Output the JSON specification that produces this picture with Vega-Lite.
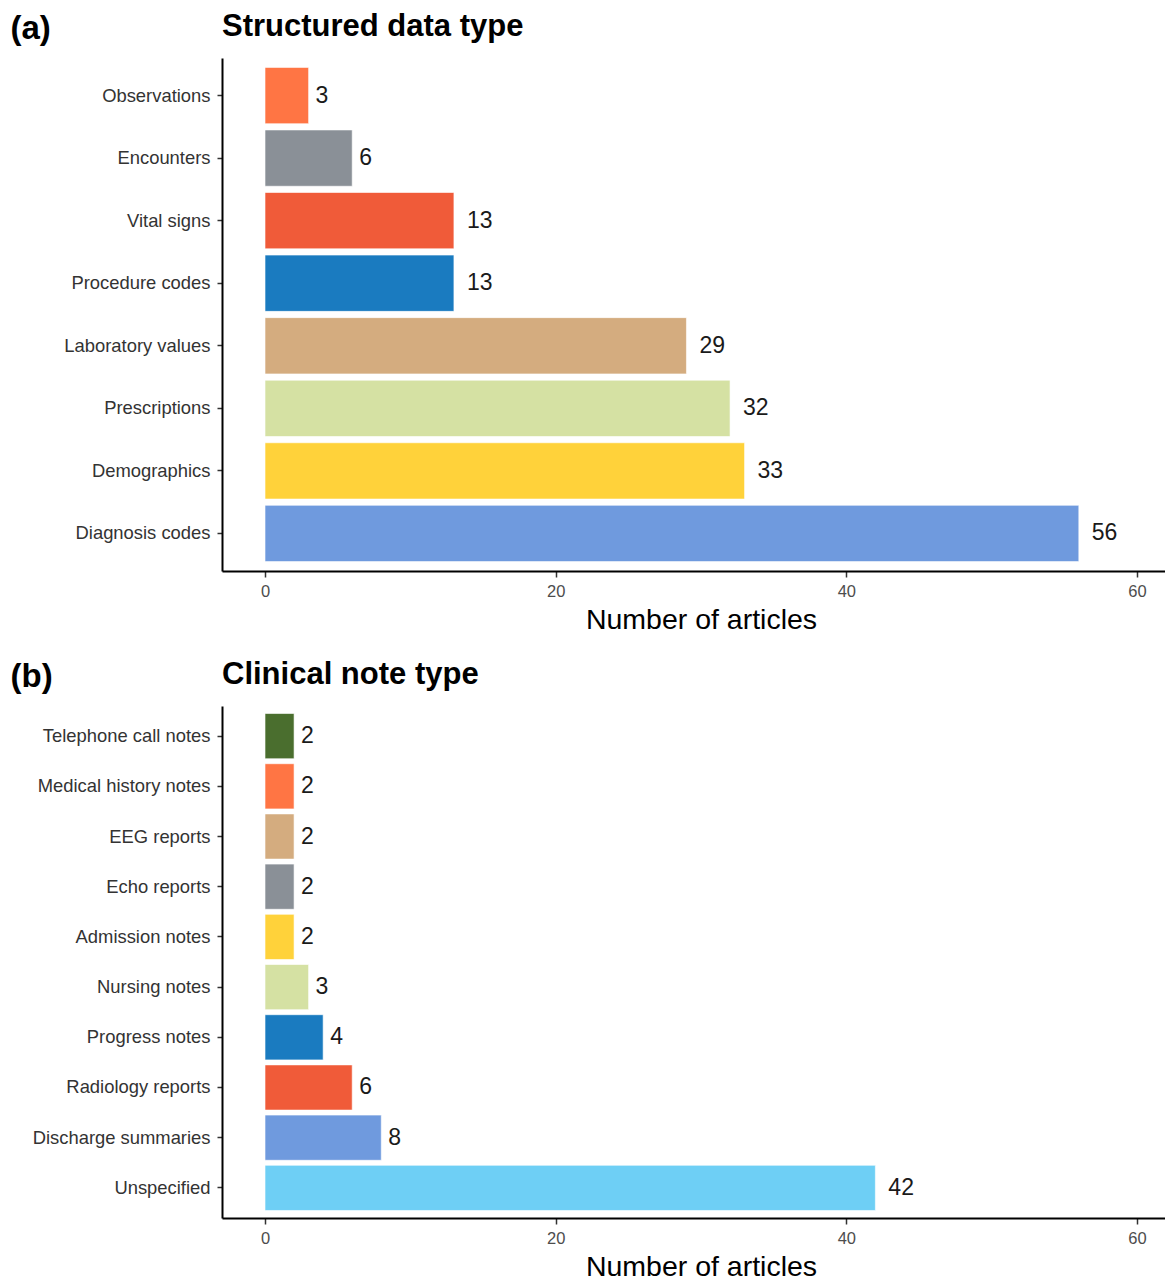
{
  "$schema": "https://vega.github.io/schema/vega-lite/v6.json",
  "padding": {"left": 10, "top": 11, "right": 0, "bottom": 0},
  "background": "white",
  "spacing": 25,
  "resolve": {"scale": {"color": "independent"}},
  "config": {
    "view": {"stroke": null},
    "font": "Liberation Sans",
    "axis": {"grid": false, "domainColor": "black", "domainWidth": 2, "tickColor": "#333333", "tickWidth": 1.5, "labelColor": "#4D4D4D", "labelFont": "Liberation Sans", "titleFont": "Liberation Sans"}
  },
  "vconcat": [
    {
      "width": 943,
      "height": 513,
      "title": {"text": "Structured data type", "anchor": "start", "frame": "group", "fontSize": 31, "fontWeight": "bold", "color": "black", "offset": 0, "dy": 31},
      "data": {"values": [
        {"type": "Observations", "n": 3},
        {"type": "Encounters", "n": 6},
        {"type": "Vital signs", "n": 13},
        {"type": "Procedure codes", "n": 13},
        {"type": "Laboratory values", "n": 29},
        {"type": "Prescriptions", "n": 32},
        {"type": "Demographics", "n": 33},
        {"type": "Diagnosis codes", "n": 56}
      ]},
      "encoding": {
        "y": {"field": "type", "type": "nominal",
          "sort": ["Observations", "Encounters", "Vital signs", "Procedure codes", "Laboratory values", "Prescriptions", "Demographics", "Diagnosis codes"],
          "scale": {"paddingInner": 0.1, "paddingOuter": 0.15},
          "axis": {"title": "(a)", "titleAngle": 0, "titleAlign": "left", "titleBaseline": "alphabetic", "titleX": -212, "titleY": -20, "titleFontSize": 33, "titleFontWeight": "bold", "titleColor": "black", "labelFontSize": 18.4, "labelColor": "#333333", "tickSize": 5, "labelPadding": 7, "labelLimit": 300}
        },
        "x": {"field": "n", "type": "quantitative",
          "scale": {"domain": [-2.96, 61.93], "nice": false, "zero": false},
          "axis": {"values": [0, 20, 40, 60], "title": "Number of articles", "titleFontSize": 28.5, "titleFontWeight": "normal", "titleColor": "black", "titleX": 479, "titlePadding": 6, "labelFontSize": 16.5, "tickSize": 6, "labelPadding": 6}
        }
      },
      "layer": [
        {"mark": {"type": "bar", "stroke": "white", "strokeWidth": 0.6},
         "encoding": {"x2": {"datum": 0},
           "color": {"field": "type", "type": "nominal", "legend": null,
             "scale": {"domain": ["Observations", "Encounters", "Vital signs", "Procedure codes", "Laboratory values", "Prescriptions", "Demographics", "Diagnosis codes"],
               "range": ["#FF7544", "#8A9097", "#F05B39", "#1A7BC0", "#D4AC7F", "#D5E1A3", "#FFD23A", "#6F9ADE"]}}}},
        {"transform": [{"filter": "datum.n < 10"}],
         "mark": {"type": "text", "align": "left", "baseline": "middle", "dx": 7, "fontSize": 23, "color": "#1a1a1a"},
         "encoding": {"text": {"field": "n", "type": "quantitative"}}},
        {"transform": [{"filter": "datum.n >= 10"}],
         "mark": {"type": "text", "align": "left", "baseline": "middle", "dx": 13, "fontSize": 23, "color": "#1a1a1a"},
         "encoding": {"text": {"field": "n", "type": "quantitative"}}}
      ]
    },
    {
      "width": 943,
      "height": 512,
      "title": {"text": "Clinical note type", "anchor": "start", "frame": "group", "fontSize": 31, "fontWeight": "bold", "color": "black", "offset": 0, "dy": 31},
      "data": {"values": [
        {"type": "Telephone call notes", "n": 2},
        {"type": "Medical history notes", "n": 2},
        {"type": "EEG reports", "n": 2},
        {"type": "Echo reports", "n": 2},
        {"type": "Admission notes", "n": 2},
        {"type": "Nursing notes", "n": 3},
        {"type": "Progress notes", "n": 4},
        {"type": "Radiology reports", "n": 6},
        {"type": "Discharge summaries", "n": 8},
        {"type": "Unspecified", "n": 42}
      ]},
      "encoding": {
        "y": {"field": "type", "type": "nominal",
          "sort": ["Telephone call notes", "Medical history notes", "EEG reports", "Echo reports", "Admission notes", "Nursing notes", "Progress notes", "Radiology reports", "Discharge summaries", "Unspecified"],
          "scale": {"paddingInner": 0.1, "paddingOuter": 0.15},
          "axis": {"title": "(b)", "titleAngle": 0, "titleAlign": "left", "titleBaseline": "alphabetic", "titleX": -212, "titleY": -20, "titleFontSize": 33, "titleFontWeight": "bold", "titleColor": "black", "labelFontSize": 18.4, "labelColor": "#333333", "tickSize": 5, "labelPadding": 7, "labelLimit": 300}
        },
        "x": {"field": "n", "type": "quantitative",
          "scale": {"domain": [-2.96, 61.93], "nice": false, "zero": false},
          "axis": {"values": [0, 20, 40, 60], "title": "Number of articles", "titleFontSize": 28.5, "titleFontWeight": "normal", "titleColor": "black", "titleX": 479, "titlePadding": 6, "labelFontSize": 16.5, "tickSize": 6, "labelPadding": 6}
        }
      },
      "layer": [
        {"mark": {"type": "bar", "stroke": "white", "strokeWidth": 0.6},
         "encoding": {"x2": {"datum": 0},
           "color": {"field": "type", "type": "nominal", "legend": null,
             "scale": {"domain": ["Telephone call notes", "Medical history notes", "EEG reports", "Echo reports", "Admission notes", "Nursing notes", "Progress notes", "Radiology reports", "Discharge summaries", "Unspecified"],
               "range": ["#4A6E2E", "#FF7544", "#D4AC7F", "#8A9097", "#FFD23A", "#D5E1A3", "#1A7BC0", "#F05B39", "#6F9ADE", "#6ECFF5"]}}}},
        {"transform": [{"filter": "datum.n < 10"}],
         "mark": {"type": "text", "align": "left", "baseline": "middle", "dx": 7, "fontSize": 23, "color": "#1a1a1a"},
         "encoding": {"text": {"field": "n", "type": "quantitative"}}},
        {"transform": [{"filter": "datum.n >= 10"}],
         "mark": {"type": "text", "align": "left", "baseline": "middle", "dx": 13, "fontSize": 23, "color": "#1a1a1a"},
         "encoding": {"text": {"field": "n", "type": "quantitative"}}}
      ]
    }
  ]
}
